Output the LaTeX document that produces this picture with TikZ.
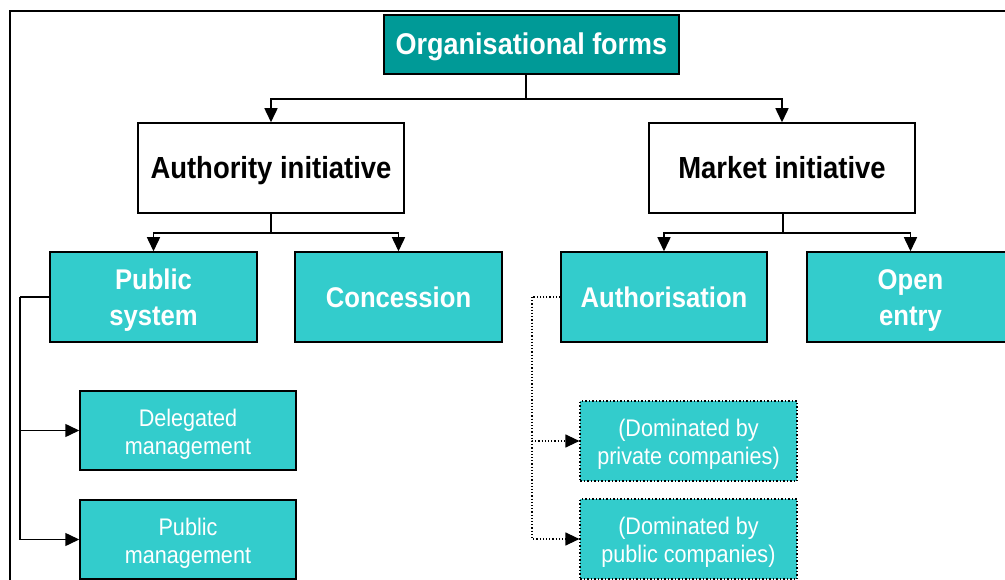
\documentclass[tikz,border=0pt]{standalone}
\usepackage{fontspec}
\setmainfont{Liberation Sans}[FakeStretch=0.9]
\usetikzlibrary{arrows.meta}
\definecolor{tealdark}{HTML}{009A97}
\definecolor{teallight}{HTML}{33CCCC}
% raises the first line of a two-line label so both lines sit evenly in the box
\newcommand{\firstline}[1]{\rule{0pt}{#1}}
\tikzset{
  box/.style={draw=black, line width=1.5pt, rectangle, align=center, inner sep=0pt},
  oneline/.style={text height=24pt, text depth=3pt},
  titlebox/.style={box, oneline, fill=tealdark, text=white, minimum width=295pt, minimum height=59pt,
    font=\fontsize{30}{34}\selectfont\bfseries},
  initbox/.style={box, oneline, fill=white, text=black, minimum width=266pt, minimum height=90pt,
    font=\fontsize{30.5}{34}\selectfont\bfseries},
  formbox/.style={box, fill=teallight, text=white, minimum width=207pt, minimum height=90pt,
    font=\fontsize{28.5}{36}\selectfont\bfseries},
  subbox/.style={box, fill=teallight, text=white, minimum width=216pt, minimum height=79pt,
    font=\fontsize{24}{28}\selectfont},
  dotbox/.style={subbox, dotted, line width=1.2pt, minimum width=217pt, minimum height=80pt},
  arr/.style={draw=black, line width=1.5pt, -{Triangle[length=14pt,width=13pt]}},
  link/.style={draw=black, line width=1.5pt},
  dotarr/.style={draw=black, line width=1.2pt, dotted, -{Triangle[length=14pt,width=13pt]}},
  dotlink/.style={draw=black, line width=1.2pt, dotted},
}
\begin{document}
\begin{tikzpicture}[x=1pt, y=-1pt]
  \clip (0,0) rectangle (1005,580);
  \fill[white] (0,0) rectangle (1005,580);
  % outer frame (runs off the page to the right and bottom)
  \draw[line width=2pt] (10,620) -- (10,11) -- (1040,11);

  % nodes
  \node[titlebox] (org) at (531.5,44.5) {Organisational forms};
  \node[initbox] (auth) at (271,168) {Authority initiative};
  \node[initbox] (market) at (782,168) {Market initiative};
  \node[formbox] (pubsys) at (153.5,297) {\firstline{27pt}Public\\system};
  \node[formbox, oneline] (conc) at (398.5,297) {Concession};
  \node[formbox, oneline, minimum width=206pt] (authz) at (664,297) {Authorisation};
  \node[formbox] (open) at (910.5,297) {\firstline{27pt}Open\\entry};
  \node[subbox] (deleg) at (188,430.5) {\firstline{24pt}Delegated\\management};
  \node[subbox] (pubman) at (188,539.5) {\firstline{24pt}Public\\management};
  \node[dotbox] (domprv) at (688.5,441) {\firstline{24pt}(Dominated by\\private companies)};
  \node[dotbox] (dompub) at (688.5,539) {\firstline{24pt}(Dominated by\\public companies)};

  % junction points
  \coordinate (jtop) at (526,99);
  \coordinate (jauth) at (271,233);
  \coordinate (jmarket) at (783,233);
  \coordinate (jpub) at (20,297);
  \coordinate (jaut) at (532,297);

  % tree connectors
  \draw[link] (jtop |- org.south) -- (jtop);
  \draw[arr] (jtop) -| (auth);
  \draw[arr] (jtop) -| (market);

  \draw[link] (auth.south) -- (jauth);
  \draw[arr] (jauth) -| (pubsys);
  \draw[arr] (jauth) -| (conc);

  \draw[link] (jmarket |- market.south) -- (jmarket);
  \draw[arr] (jmarket) -| (authz);
  \draw[arr] (jmarket) -| (open);

  \draw[link] (pubsys.west) -- (jpub);
  \draw[arr] (jpub) |- (deleg);
  \draw[arr] (jpub) |- (pubman);

  \draw[dotlink] (authz.west) -- (jaut);
  \draw[dotarr] (jaut) |- (domprv);
  \draw[dotarr] (jaut) |- (dompub);
\end{tikzpicture}
\end{document}
